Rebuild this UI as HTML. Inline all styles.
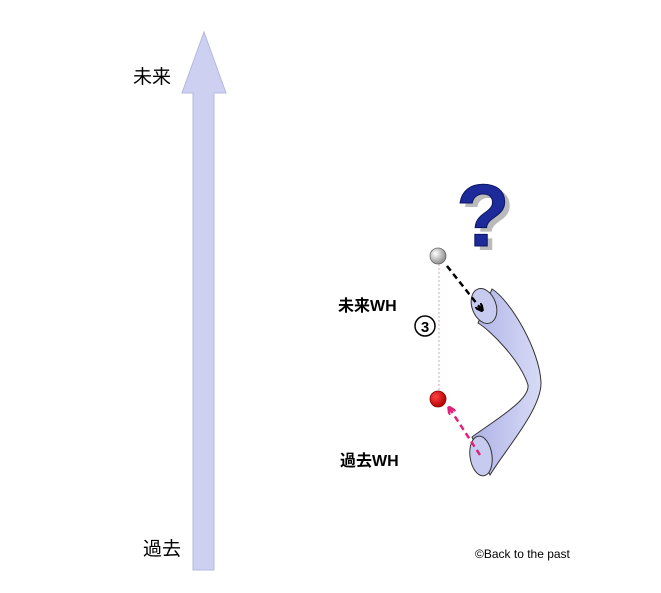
<!DOCTYPE html>
<html><head><meta charset="utf-8"><style>
body{margin:0;background:#fff;width:661px;height:593px;overflow:hidden}
svg{display:block}
text{font-family:"Liberation Sans","Noto Sans CJK JP",sans-serif}
</style></head><body>
<svg width="661" height="593" viewBox="0 0 661 593">
<defs>
<radialGradient id="gb" cx="0.35" cy="0.35" r="0.7"><stop offset="0" stop-color="#fff"/><stop offset="1" stop-color="#888"/></radialGradient>
<radialGradient id="rb" cx="0.35" cy="0.35" r="0.7"><stop offset="0" stop-color="#ff4040"/><stop offset="1" stop-color="#b00000"/></radialGradient>
<linearGradient id="tb" x1="0" y1="0" x2="1" y2="0"><stop offset="0" stop-color="#aeb2e6"/><stop offset="1" stop-color="#d8dbf6"/></linearGradient>
<marker id="ak" markerWidth="8" markerHeight="8" refX="5" refY="4" orient="auto" markerUnits="userSpaceOnUse"><path d="M0,0 L8,4 L0,8" fill="none" stroke="#000" stroke-width="2.5"/></marker>
<marker id="ap" markerWidth="8" markerHeight="8" refX="5" refY="4" orient="auto" markerUnits="userSpaceOnUse"><path d="M0,0 L8,4 L0,8" fill="none" stroke="#e0207a" stroke-width="2.5"/></marker>
</defs>
<path d="M204,32 L226,93 L214,93 L214,570 L193,570 L193,93 L182,93 Z" fill="#cdd0f1" stroke="#b4b8e0" stroke-width="1"/>
<text x="133" y="83" font-size="19">未来</text>
<text x="143" y="555" font-size="19">過去</text>
<path d="M492,289 C510,300 540,350 541,383 C541,410 505,450 490,475 L472,437 C495,420 530,400 528,385 C520,360 490,330 478,323 Z" fill="url(#tb)" stroke="#333" stroke-width="1"/>
<ellipse cx="484" cy="306" rx="12" ry="18" transform="rotate(-20 484 306)" fill="#c8cbf0" stroke="#333" stroke-width="1"/>
<ellipse cx="481" cy="456" rx="11" ry="20" transform="rotate(-8 481 456)" fill="#c8cbf0" stroke="#333" stroke-width="1"/>
<text x="461" y="250" font-size="88" font-weight="bold" fill="#777" opacity="0.5">?</text>
<text x="456" y="246" font-size="88" font-weight="bold" fill="#1c2a9a" stroke="#0d1660" stroke-width="1">?</text>
<line x1="439" y1="264" x2="439" y2="392" stroke="#e0a0c0" stroke-width="1" stroke-dasharray="2,2"/>
<line x1="447" y1="266" x2="481" y2="309" stroke="#000" stroke-width="2.5" stroke-dasharray="6,4" marker-end="url(#ak)"/>
<line x1="480" y1="455" x2="450" y2="409" stroke="#e0207a" stroke-width="2.5" stroke-dasharray="6,4" marker-end="url(#ap)"/>
<circle cx="438" cy="256" r="8" fill="url(#gb)" stroke="#666" stroke-width="0.8"/>
<circle cx="438" cy="399" r="8" fill="url(#rb)" stroke="#800" stroke-width="0.8"/>
<text x="338" y="311" font-size="16" font-weight="bold">未来WH</text>
<text x="340" y="466" font-size="16" font-weight="bold">過去WH</text>
<circle cx="425" cy="326" r="10" fill="none" stroke="#000" stroke-width="1.5"/>
<text x="425" y="332" font-size="15" font-weight="bold" text-anchor="middle">3</text>
<text x="475" y="558" font-size="12">©Back to the past</text>
</svg>
</body></html>
